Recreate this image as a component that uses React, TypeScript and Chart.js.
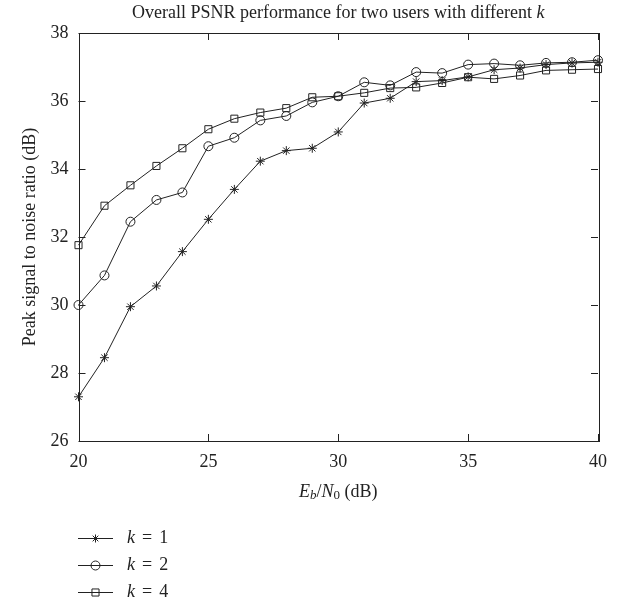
import React, { useEffect, useRef } from "react";
import { Chart, registerables } from "chart.js";

Chart.register(...registerables);

const ebn0 = [20, 21, 22, 23, 24, 25, 26, 27, 28, 29, 30, 31, 32, 33, 34, 35, 36, 37, 38, 39, 40];
const psnrK1 = [27.3, 28.45, 29.95, 30.56, 31.57, 32.52, 33.4, 34.23, 34.54, 34.61, 35.09, 35.94, 36.08, 36.57, 36.6, 36.71, 36.92, 36.97, 37.07, 37.12, 37.14];
const psnrK2 = [30.0, 30.87, 32.45, 33.09, 33.31, 34.67, 34.92, 35.43, 35.56, 35.96, 36.14, 36.55, 36.46, 36.85, 36.82, 37.07, 37.1, 37.05, 37.12, 37.14, 37.2];
const psnrK4 = [31.76, 32.92, 33.52, 34.09, 34.61, 35.17, 35.48, 35.66, 35.79, 36.11, 36.14, 36.24, 36.38, 36.4, 36.53, 36.7, 36.65, 36.75, 36.9, 36.92, 36.94];
const kValues = ["1", "2", "4"];
const pointStyles = ["star", "circle", "rect"];
const xTicks = [20, 25, 30, 35, 40];
const yTicks = [26, 28, 30, 32, 34, 36, 38];
const titleMain = "Overall PSNR performance for two users with different ";
const titleVar = "k";
const yTitle = "Peak signal to noise ratio (dB)";

const FONT = '"Liberation Serif", "Times New Roman", serif';
const INK = "#222222";
const FS = 18;

type Seg = { t: string; it?: boolean; sub?: boolean; gap?: number };

function segFont(s: Seg) {
  const size = s.sub ? Math.round(FS * 0.72) : FS;
  return `${s.it ? "italic " : ""}${size}px ${FONT}`;
}

function drawRich(ctx: CanvasRenderingContext2D, segs: Seg[], x: number, y: number, align: "center" | "left") {
  let total = 0;
  for (const s of segs) {
    ctx.font = segFont(s);
    total += ctx.measureText(s.t).width + (s.gap || 0);
  }
  let cx = align === "center" ? x - total / 2 : x;
  ctx.textAlign = "left";
  ctx.textBaseline = "middle";
  for (const s of segs) {
    ctx.font = segFont(s);
    ctx.fillText(s.t, cx, s.sub ? y + 4 : y);
    cx += ctx.measureText(s.t).width + (s.gap || 0);
  }
}

function drawMarker(ctx: CanvasRenderingContext2D, style: string, x: number, y: number, r: number) {
  ctx.beginPath();
  if (style === "circle") {
    ctx.arc(x, y, r, 0, Math.PI * 2);
  } else if (style === "rect") {
    const h = r * Math.SQRT1_2;
    ctx.rect(x - h, y - h, 2 * h, 2 * h);
  } else {
    for (let i = 0; i < 4; i++) {
      const a = (i * Math.PI) / 4;
      ctx.moveTo(x - r * Math.cos(a), y - r * Math.sin(a));
      ctx.lineTo(x + r * Math.cos(a), y + r * Math.sin(a));
    }
  }
  ctx.stroke();
}

const decorPlugin = {
  id: "decor",
  afterDraw(chart: any) {
    const { ctx, chartArea: a, scales } = chart;
    const xs = scales.x;
    const ys = scales.y;
    ctx.save();
    ctx.strokeStyle = INK;
    ctx.fillStyle = INK;
    ctx.lineWidth = 1;
    // frame
    ctx.strokeRect(Math.round(a.left) + 0.5, Math.round(a.top) + 0.5, Math.round(a.right - a.left), Math.round(a.bottom - a.top));
    // inward ticks
    const tl = 7;
    ctx.beginPath();
    for (const v of xTicks) {
      const px = Math.round(xs.getPixelForValue(v)) + 0.5;
      ctx.moveTo(px, a.bottom);
      ctx.lineTo(px, a.bottom - tl);
      ctx.moveTo(px, a.top);
      ctx.lineTo(px, a.top + tl);
    }
    for (const v of yTicks) {
      const py = Math.round(ys.getPixelForValue(v)) + 0.5;
      ctx.moveTo(a.left, py);
      ctx.lineTo(a.left + tl, py);
      ctx.moveTo(a.right, py);
      ctx.lineTo(a.right - tl, py);
    }
    ctx.stroke();

    const cx = (a.left + a.right) / 2;
    // title
    drawRich(ctx, [{ t: titleMain }, { t: titleVar, it: true }], cx, 13, "center");
    // x title
    drawRich(
      ctx,
      [{ t: "E", it: true }, { t: "b", it: true, sub: true }, { t: "/" }, { t: "N", it: true }, { t: "0", sub: true }, { t: " (dB)" }],
      cx,
      492,
      "center"
    );
    // y title
    ctx.save();
    ctx.translate(30, (a.top + a.bottom) / 2);
    ctx.rotate(-Math.PI / 2);
    drawRich(ctx, [{ t: yTitle }], 0, 0, "center");
    ctx.restore();

    // legend
    const lx0 = 78;
    const lx1 = 113;
    const ly0 = 538;
    const dy = 27;
    chart.data.datasets.forEach((ds: any, i: number) => {
      const y = ly0 + i * dy;
      ctx.beginPath();
      ctx.moveTo(lx0, y + 0.5);
      ctx.lineTo(lx1, y + 0.5);
      ctx.stroke();
      drawMarker(ctx, pointStyles[i], (lx0 + lx1) / 2, y + 0.5, pointStyles[i] === "circle" ? 4.5 : pointStyles[i] === "rect" ? 5 : 4);
      drawRich(ctx, [{ t: "k", it: true, gap: 7 }, { t: "=", gap: 7 }, { t: kValues[i] }], 127, y, "left");
    });
    ctx.restore();
  },
};

export default function App() {
  const ref = useRef<HTMLCanvasElement | null>(null);
  useEffect(() => {
    if (!ref.current) return;
    const series = [psnrK1, psnrK2, psnrK4];
    const chart = new Chart(ref.current, {
      type: "line",
      data: {
        datasets: series.map((vals, i) => ({
          label: "k = " + kValues[i],
          data: ebn0.map((x, j) => ({ x, y: vals[j] })),
          borderColor: INK,
          borderWidth: 1,
          backgroundColor: "transparent",
          pointStyle: pointStyles[i] as any,
          pointRadius: pointStyles[i] === "circle" ? 4.5 : pointStyles[i] === "rect" ? 5 : 4.5,
          pointBorderColor: INK,
          pointBackgroundColor: "transparent",
          pointBorderWidth: 1,
          tension: 0,
          fill: false,
          clip: false as any,
        })),
      },
      options: {
        responsive: false,
        animation: false,
        events: [],
        layout: { padding: { top: 33, right: 21, left: 0, bottom: 0 } },
        plugins: {
          legend: { display: false },
          title: { display: false },
          tooltip: { enabled: false },
        },
        scales: {
          x: {
            type: "linear",
            min: 20,
            max: 40,
            afterBuildTicks: (s: any) => {
              s.ticks = xTicks.map((v) => ({ value: v }));
            },
            afterFit: (s: any) => {
              s.height = 161;
            },
            grid: { display: false, drawTicks: false },
            border: { display: false },
            ticks: { color: INK, font: { family: FONT, size: FS }, padding: 10, maxRotation: 0 },
          },
          y: {
            type: "linear",
            min: 26,
            max: 38,
            afterBuildTicks: (s: any) => {
              s.ticks = yTicks.map((v) => ({ value: v }));
            },
            afterFit: (s: any) => {
              s.width = 78.5;
            },
            grid: { display: false, drawTicks: false },
            border: { display: false },
            ticks: { color: INK, font: { family: FONT, size: FS }, padding: 10 },
          },
        },
      },
      plugins: [decorPlugin],
    });
    return () => chart.destroy();
  }, []);
  return (
    <div style={{ position: "fixed", left: 0, top: 0, width: 619, height: 602, background: "#fff" }}>
      <canvas ref={ref} width={619} height={602} style={{ width: 619, height: 602, display: "block" }} />
    </div>
  );
}
